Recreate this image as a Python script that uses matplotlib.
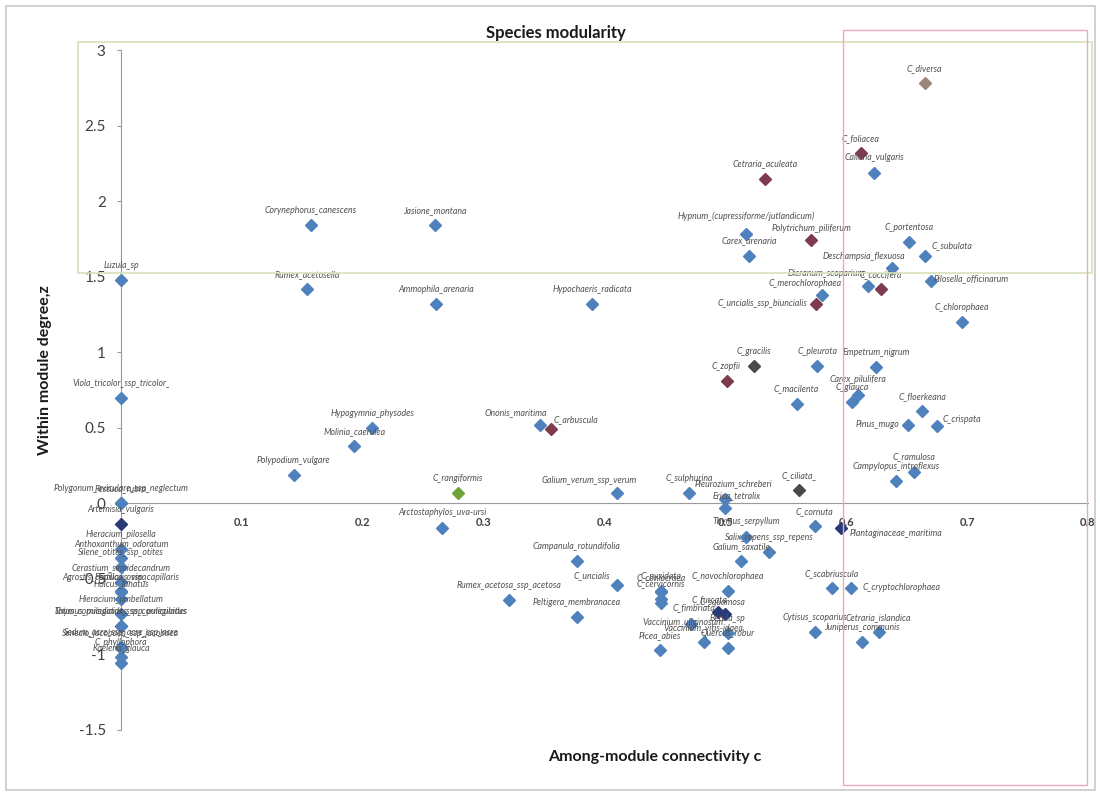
import matplotlib
matplotlib.use("Agg")
import matplotlib.pyplot as plt
from matplotlib.patches import Rectangle

plt.rcParams['font.family'] = ['Lato', 'DejaVu Sans']

# ---- data: among-module connectivity (c) and within-module degree (z) per species ----
blue_names = [
    "Luzula_sp", "Corynephorus_canescens", "Jasione_montana", "Rumex_acetosella",
    "Ammophila_arenaria", "Hypochaeris_radicata", "Hypnum_(cupressiforme/jutlandicum)",
    "Carex_arenaria", "Calluna_vulgaris", "C_portentosa", "C_subulata",
    "Deschampsia_flexuosa", "Dicranum_scoparium", "Pilosella_officinarum",
    "C_merochlorophaea", "C_chlorophaea", "C_pleurota", "Empetrum_nigrum",
    "Viola_tricolor_ssp_tricolor_", "C_macilenta", "Carex_pilulifera", "C_glauca",
    "C_floerkeana", "Pinus_mugo", "C_crispata", "Hypogymnia_physodes",
    "Molinia_caerulea", "Ononis_maritima", "Polypodium_vulgare", "C_ramulosa",
    "Campylopus_introflexus", "Galium_verum_ssp_verum", "C_sulphurina",
    "Pleurozium_schreberi", "Erica_tetralix", "Polygonum_aviculare_ssp_neglectum",
    "Festuca_rubra", "Arctostaphylos_uva-ursi", "C_cornuta", "Thymus_serpyllum",
    "Salix_repens_ssp_repens", "Galium_saxatile", "Campanula_rotundifolia",
    "C_uncialis", "C_pyxidata", "C_coniocraea", "C_novochlorophaea",
    "C_cervicornis", "C_fimbriata", "Rumex_acetosa_ssp_acetosa",
    "Peltigera_membranacea", "C_scabriuscula", "C_cryptochlorophaea",
    "Vaccinium_uliginosum", "Picea_abies", "Vaccinium_vitis-idaea", "Betula_sp",
    "Quercus_robur", "Cytisus_scoparius", "Cetraria_islandica", "Juniperus_communis",
    # species piled up at c = 0
    "Hieracium_pilosella", "Anthoxanthum_odoratum", "Silene_otites_ssp_otites",
    "Cerastium_semidecandrum", "Festuca_ovina", "Agrostis_capillaris_ssp_capillaris",
    "Holcus_lanatus", "Hieracium_umbellatum", "Thymus_pulegioides_ssp_pulegioides",
    "Lotus_corniculatus_ssp_corniculatus", "Sedum_acre_ssp_acre_ssp_acre",
    "Senecio_jacobaea_ssp_jacobaea", "C_phyllophora", "Koeleria_glauca",
]
blue_c = [
    0.0, 0.157, 0.26, 0.154,
    0.261, 0.39, 0.517,
    0.52, 0.623, 0.652, 0.665,
    0.638, 0.618, 0.67,
    0.58, 0.696, 0.576, 0.625,
    0.0, 0.559, 0.61, 0.605,
    0.663, 0.651, 0.675, 0.208,
    0.193, 0.347, 0.143, 0.656,
    0.641, 0.41, 0.47,
    0.5, 0.5, 0.0,
    0.0, 0.266, 0.574, 0.517,
    0.536, 0.513, 0.377,
    0.41, 0.447, 0.447, 0.502,
    0.447, 0.447, 0.321,
    0.377, 0.588, 0.604,
    0.472, 0.446, 0.482, 0.502,
    0.502, 0.574, 0.627, 0.613,
    0.0, 0.0, 0.0,
    0.0, 0.0, 0.0,
    0.0, 0.0, 0.0,
    0.0, 0.0,
    0.0, 0.0, 0.0,
]
blue_z = [
    1.48, 1.84, 1.84, 1.42,
    1.32, 1.32, 1.78,
    1.64, 2.19, 1.73, 1.64,
    1.56, 1.44, 1.47,
    1.38, 1.20, 0.91, 0.90,
    0.70, 0.66, 0.72, 0.67,
    0.61, 0.52, 0.51, 0.50,
    0.38, 0.52, 0.19, 0.21,
    0.15, 0.07, 0.07,
    0.03, -0.03, 0.0,
    0.0, -0.16, -0.15, -0.22,
    -0.32, -0.38, -0.38,
    -0.54, -0.58, -0.585, -0.58,
    -0.63, -0.66, -0.64,
    -0.75, -0.56, -0.56,
    -0.80, -0.97, -0.92, -0.86,
    -0.96, -0.85, -0.85, -0.92,
    -0.30, -0.36, -0.42,
    -0.52, -0.58, -0.585,
    -0.63, -0.73, -0.81,
    -0.815, -0.95,
    -0.955, -1.02, -1.06,
]

red_names = ["C_foliacea", "Cetraria_aculeata", "Polytrichum_piliferum", "C_coccifera",
             "C_uncialis_ssp_biuncialis", "C_zopfii", "C_arbuscula"]
red_c = [0.612, 0.533, 0.571, 0.629, 0.575, 0.501, 0.356]
red_z = [2.32, 2.15, 1.74, 1.42, 1.32, 0.81, 0.49]

grey_names = ["C_gracilis", "C_ciliata_"]
grey_c = [0.524, 0.561]
grey_z = [0.91, 0.09]

brown_names = ["C_diversa"]
brown_c = [0.665]
brown_z = [2.78]

green_names = ["C_rangiformis"]
green_c = [0.279]
green_z = [0.07]

navy_names = ["Artemisia_vulgaris", "Plantaginaceae_maritima", "C_furcata", "C_squamosa"]
navy_c = [0.0, 0.596, 0.494, 0.5]
navy_z = [-0.14, -0.16, -0.72, -0.73]

# label placement exceptions (offset in points, horizontal alignment); default is centred above
label_offsets = {
    "C_subulata": (5, 7, "left"),
    "Pilosella_officinarum": (2, 2, "left"),
    "C_crispata": (4, 5, "left"),
    "Pinus_mugo": (-6, 0, "right"),
    "C_arbuscula": (2, 7, "left"),
    "C_uncialis_ssp_biuncialis": (-6, 0, "right"),
    "Plantaginaceae_maritima": (6, -4, "left"),
    "C_cryptochlorophaea": (8, 0, "left"),
    "C_fimbriata": (8, -3, "left"),
    "Dicranum_scoparium": (-30, 9, "center"),
    "Deschampsia_flexuosa": (-20, 8, "center"),
    "C_merochlorophaea": (-12, 8, "center"),
    "Ononis_maritima": (-18, 9, "center"),
    "Galium_verum_ssp_verum": (-20, 9, "center"),
    "Pleurozium_schreberi": (6, 11, "center"),
    "Erica_tetralix": (8, 9, "center"),
    "C_uncialis": (-18, 7, "center"),
    "Vaccinium_uliginosum": (-6, 1, "center"),
    "C_furcata": (-6, 9, "center"),
    "C_squamosa": (-2, 8, "center"),
    "Hypnum_(cupressiforme/jutlandicum)": (0, 13, "center"),
    "Polytrichum_piliferum": (0, 8.5, "center"),
}

fig = plt.figure(figsize=(11, 7.96), dpi=100)
ax = fig.add_axes([0.11, 0.083, 0.879, 0.854])

series = [
    (blue_names, blue_c, blue_z, "#4F81BD"),
    (red_names, red_c, red_z, "#7E3B4E"),
    (grey_names, grey_c, grey_z, "#4A4A4A"),
    (brown_names, brown_c, brown_z, "#9B8478"),
    (green_names, green_c, green_z, "#6FA43A"),
    (navy_names, navy_c, navy_z, "#283A78"),
]
for names, cs, zs, col in series:
    ax.plot(cs, zs, "D", ms=6.5, color=col, mec=col, zorder=4, clip_on=False)
    for n, c, z in zip(names, cs, zs):
        dx, dy, ha = label_offsets.get(n, (0, 10.5, "center"))
        ax.annotate(n, (c, z), xytext=(dx, dy), textcoords="offset points",
                    ha=ha, va="center", fontsize=6.3, style="italic", color="#505050",
                    zorder=5)

ax.set_xlim(0, 0.8)
ax.set_ylim(-1.5, 3)
for s in ["top", "right"]:
    ax.spines[s].set_visible(False)
ax.spines["bottom"].set_position(("data", 0))
ax.spines["bottom"].set_color("#9A9A9A")
ax.spines["left"].set_color("#9A9A9A")
ax.set_xticks([0.1, 0.2, 0.3, 0.4, 0.5, 0.6, 0.7, 0.8])
ax.set_xticklabels(["0.1", "0.2", "0.3", "0.4", "0.5", "0.6", "0.7", "0.8"],
                   fontsize=8, fontweight="bold", color="#404040")
ax.tick_params(axis="x", length=0, pad=10)
ax.set_yticks([-1.5, -1, -0.5, 0, 0.5, 1, 1.5, 2, 2.5, 3])
ax.set_yticklabels(["-1.5", "-1", "-0.5", "0", "0.5", "1", "1.5", "2", "2.5", "3"],
                   fontsize=11, color="#404040")
ax.tick_params(axis="y", length=3, pad=8, color="#9A9A9A")

fig.text(0.505, 0.958, "Species modularity", ha="center", va="center",
         fontsize=12, fontweight="bold", color="#1A1A1A")
fig.text(0.041, 0.535, "Within module degree,z", rotation=90, ha="center", va="center",
         fontsize=11.5, fontweight="bold", color="#1A1A1A")
fig.text(0.595, 0.049, "Among-module connectivity c", ha="center", va="center",
         fontsize=11.5, fontweight="bold", color="#1A1A1A")

# chart frame and highlight boxes
fig.patches.append(Rectangle((0.005, 0.007), 0.99, 0.986, transform=fig.transFigure,
                             fill=False, ec="#C8C8C8", lw=1.2))
fig.patches.append(Rectangle((0.071, 0.657), 0.922, 0.29, transform=fig.transFigure,
                             fill=False, ec="#D5E2B8", lw=1.2))
fig.patches.append(Rectangle((0.766, 0.014), 0.222, 0.948, transform=fig.transFigure,
                             fill=False, ec="#EDA9BA", lw=1.0))

fig.savefig("out.png", dpi=100)
